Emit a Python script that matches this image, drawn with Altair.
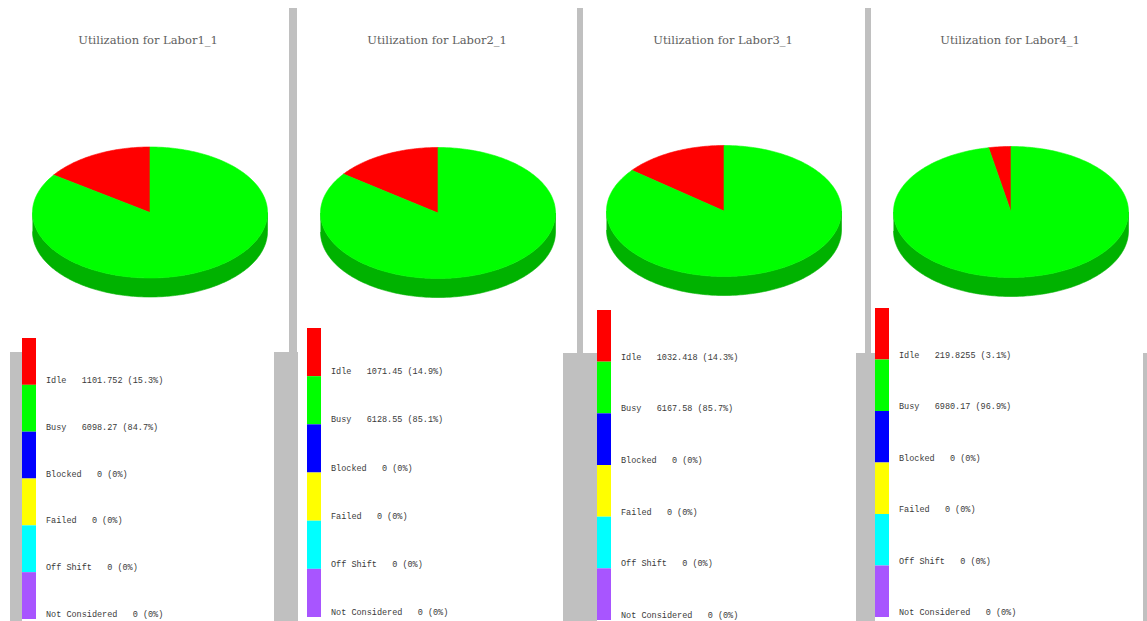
import math

import altair as alt
import pandas as pd

# ---- data -------------------------------------------------------------
resources = ["Labor1_1", "Labor2_1", "Labor3_1", "Labor4_1"]
states = ["Idle", "Busy", "Blocked", "Failed", "Off Shift", "Not Considered"]
idle = [1101.752, 1071.45, 1032.418, 219.8255]
busy = [6098.27, 6128.55, 6167.58, 6980.17]
blocked = [0, 0, 0, 0]
failed = [0, 0, 0, 0]
off_shift = [0, 0, 0, 0]
not_considered = [0, 0, 0, 0]

state_colors = ["#ff0000", "#00ff00", "#0000ff", "#ffff00", "#00ffff", "#a855ff"]
side_colors = ["#b20000", "#00b200", "#0000b2", "#b2b200", "#00b2b2", "#763bb2"]

# ---- layout (pixels) --------------------------------------------------
W, H = 1147, 621
GRAY = "#c0c0c0"
pie_cx = [150, 438, 724, 1011]
pie_cy = [212.5, 213, 211, 212]
RX, RY, DEPTH = 117.5, 65.5, 19
title_x = [148, 437, 723, 1010]
TITLE_Y = 41
swatch_x = [22, 307, 597, 875]
SWATCH_W = 14
swatch_top = [338, 328, 310, 308]
swatch_bottom = [619, 617, 620, 617]

gray_blocks = [
    (289, 8, 297, 352), (10, 352, 22, H), (274, 352, 298, H),
    (577, 8, 583, 353), (563, 353, 597, H),
    (865, 8, 871, 353), (856, 353, 875, H),
    (1143, 353, W, H),
]

series = [idle, busy, blocked, failed, off_shift, not_considered]


def rim(cx, cy, a, dy=0.0):
    # angle measured from 12 o'clock, running counter-clockwise
    return cx - RX * math.sin(a), cy - RY * math.cos(a) + dy


def arc_angles(a0, a1):
    n = max(2, int(math.degrees(a1 - a0)) + 1)
    return [a0 + (a1 - a0) * i / (n - 1) for i in range(n)]


top_rows, side_rows = [], []
text_rows, swatch_rows = [], []
for p, name in enumerate(resources):
    vals = [s[p] for s in series]
    total = sum(vals)
    cx, cy = pie_cx[p], pie_cy[p]
    sh = (swatch_bottom[p] - swatch_top[p]) / 6
    start = 0.0
    for k, v in enumerate(vals):
        pct = v / total * 100
        pct_txt = "0" if v == 0 else f"{pct:.1f}"
        text_rows.append({
            "x": swatch_x[p] + SWATCH_W + 10,
            "y": swatch_top[p] + (k + 1) * sh - 5,
            "t": f"{states[k]}\u00a0\u00a0 {v:.7g} ({pct_txt}%)",
        })
        swatch_rows.append({
            "x": swatch_x[p], "x2": swatch_x[p] + SWATCH_W,
            "y": swatch_top[p] + k * sh, "y2": swatch_top[p] + (k + 1) * sh,
            "c": state_colors[k],
        })
        if v == 0:
            continue
        end = start + 2 * math.pi * v / total
        pid = f"{name}-{k}"
        # upper face of the slice
        pts = [(cx, cy)] + [rim(cx, cy, a) for a in arc_angles(start, end)] + [(cx, cy)]
        for i, (x, y) in enumerate(pts):
            top_rows.append({"id": pid, "o": i, "x": x, "y": y, "c": state_colors[k]})
        # visible front edge of the slice
        s0, s1 = max(start, math.pi / 2), min(end, 3 * math.pi / 2)
        if s1 > s0:
            angs = arc_angles(s0, s1)
            pts = [rim(cx, cy, a) for a in angs] + [rim(cx, cy, a, DEPTH) for a in reversed(angs)]
            for i, (x, y) in enumerate(pts):
                side_rows.append({"id": pid, "o": i, "x": x, "y": y, "c": side_colors[k]})
        start = end

titles = pd.DataFrame({
    "x": title_x, "y": [TITLE_Y] * 4,
    "t": [f"Utilization for {r}" for r in resources],
})
blocks = pd.DataFrame(gray_blocks, columns=["x", "y", "x2", "y2"])

xs = alt.Scale(domain=[0, W], range=[0, W], nice=False, zero=False)
ys = alt.Scale(domain=[0, H], range=[0, H], nice=False, zero=False)
X = alt.X("x:Q", scale=xs, axis=None)
Y = alt.Y("y:Q", scale=ys, axis=None)

bg = alt.Chart(blocks).mark_rect(color=GRAY).encode(X, Y, x2="x2:Q", y2="y2:Q")

legend_boxes = alt.Chart(pd.DataFrame(swatch_rows)).mark_rect().encode(
    X, Y, x2="x2:Q", y2="y2:Q", color=alt.Color("c:N", scale=None)
)


def polys(rows):
    return alt.Chart(pd.DataFrame(rows)).mark_line(filled=True, strokeWidth=0.6).encode(
        X, Y,
        order="o:Q",
        detail="id:N",
        color=alt.Color("c:N", scale=None),
        stroke=alt.Stroke("c:N", scale=None),
    )


title_text = alt.Chart(titles).mark_text(
    font="DejaVu Serif", fontSize=11.5, color="#606060", align="center", baseline="middle"
).encode(X, Y, text="t:N")

legend_text = alt.Chart(pd.DataFrame(text_rows)).mark_text(
    font="Liberation Mono", fontSize=8.5, color="#3a3a3a", align="left", baseline="middle",
).encode(X, Y, text="t:N")

chart = alt.layer(
    bg, polys(side_rows), polys(top_rows), legend_boxes, title_text, legend_text
).properties(
    width=W, height=H, padding=0, background="white",
    autosize=alt.AutoSizeParams(type="none"),
).configure_view(stroke=None)

chart.save("out.html", embed_options={"renderer": "svg", "actions": False})
